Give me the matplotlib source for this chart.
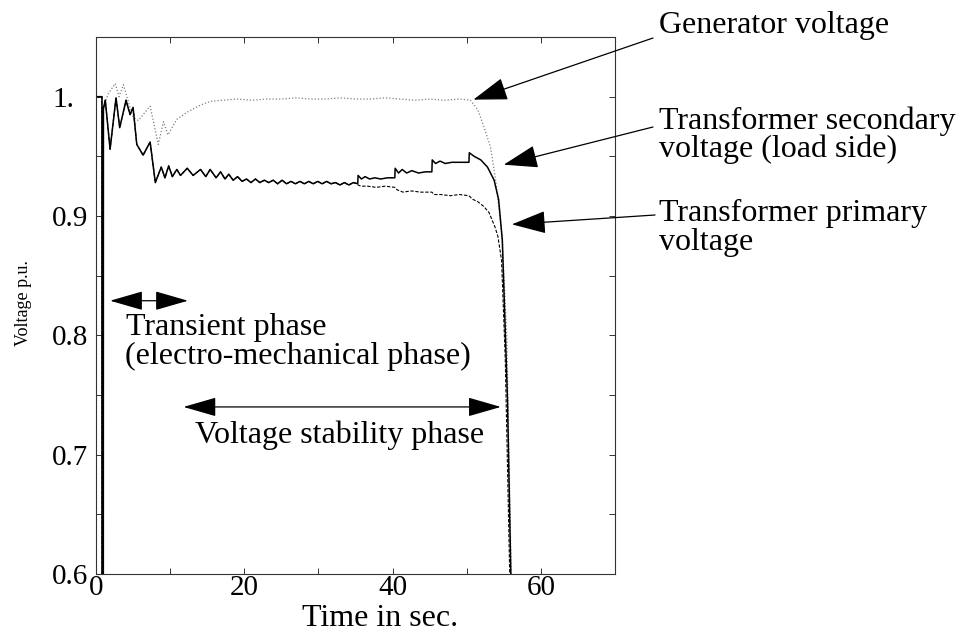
import matplotlib
matplotlib.use("Agg")
import matplotlib.pyplot as plt
from matplotlib.ticker import FixedLocator, FixedFormatter

plt.rcParams['font.family'] = ['Liberation Serif', 'DejaVu Serif']

# both transformer voltages coincide until the first tap change (~35 s)
common_t = [0.0, 0.8, 0.82, 0.98, 1.0, 1.25, 1.9, 2.7, 3.2, 4.05, 4.6, 5.0, 5.5, 6.35, 7.3, 8.0,
            8.8, 9.3, 9.8, 10.3, 10.9, 11.4, 12.3, 13.1, 14.1, 14.8, 15.4, 16.2, 16.8, 17.4,
            17.9, 18.5, 19.1, 19.7, 20.3, 20.9, 21.5, 22.1, 22.7, 23.3, 23.9, 24.5, 25.1, 25.7,
            26.3, 26.9, 27.5, 28.1, 28.7, 29.3, 29.9, 30.5, 31.1, 31.7, 32.3, 32.9, 33.5, 34.1,
            34.7, 35.3]
common_v = [1.0, 1.0, 0.3, 0.3, 0.99, 0.997, 0.956, 0.999, 0.974, 0.997, 0.985, 0.991, 0.960, 0.951, 0.962, 0.928,
            0.941, 0.932, 0.942, 0.933, 0.939, 0.934, 0.940, 0.934, 0.939, 0.933, 0.939, 0.932, 0.937, 0.931,
            0.935, 0.930, 0.933, 0.929, 0.931, 0.928, 0.931, 0.928, 0.930, 0.928, 0.930, 0.927, 0.930, 0.927,
            0.929, 0.927, 0.929, 0.927, 0.929, 0.927, 0.929, 0.927, 0.929, 0.927, 0.928, 0.926, 0.928, 0.926,
            0.928, 0.927]

# transformer secondary (load side) after 35 s
sec_tail_t = [35.35, 35.8, 36.3, 36.9, 37.6, 38.4, 39.3, 40.3,
              40.35, 40.8, 41.3, 41.9, 42.6, 43.5, 44.4, 45.3,
              45.35, 45.8, 46.4, 47.1, 48.0, 49.0, 50.3,
              50.35, 51.0, 51.9, 52.8, 53.7, 54.3, 54.8, 55.5, 55.95, 56.05]
sec_tail_v = [0.934, 0.931, 0.933, 0.931, 0.932, 0.931, 0.932, 0.932,
              0.940, 0.936, 0.939, 0.936, 0.938, 0.936, 0.937, 0.937,
              0.947, 0.944, 0.946, 0.944, 0.945, 0.945, 0.945,
              0.953, 0.950, 0.947, 0.941, 0.930, 0.914, 0.880, 0.746, 0.600, 0.300]

# transformer primary after 35 s
pri_tail_t = [35.35, 35.7, 36.6, 37.8, 39.0, 40.3,
              40.6, 41.4, 42.5, 43.8, 45.3,
              45.6, 46.5, 47.8, 49.0, 50.3,
              50.8, 51.5, 52.3, 53.0, 53.8, 54.2, 54.7, 55.2, 55.8, 55.9]
pri_tail_v = [0.926, 0.925, 0.925, 0.924, 0.925, 0.924,
              0.922, 0.920, 0.921, 0.920, 0.920,
              0.918, 0.918, 0.917, 0.918, 0.917,
              0.914, 0.912, 0.908, 0.903, 0.891, 0.883, 0.863, 0.780, 0.600, 0.300]

# generator voltage
gen_t = [0.0, 0.8, 0.82, 0.98, 1.0, 1.6, 2.6, 3.1, 3.7, 4.4,
         5.0, 5.7, 6.5, 7.3, 8.4, 9.1, 9.7, 10.9, 12.3, 14.1,
         15.4, 17.0, 19.0, 21.0, 23.0, 25.0, 27.0, 29.0, 31.0, 33.0,
         35.0, 37.0, 39.0, 41.0, 43.0, 45.0, 47.0, 49.0, 50.5, 51.5,
         52.3, 53.2, 53.9, 54.4, 54.8, 55.4, 56.0, 56.1]
gen_v = [1.0, 1.0, 0.3, 0.3, 0.99, 1.002, 1.011, 1.000, 1.010, 0.995,
         0.983, 0.980, 0.986, 0.992, 0.960, 0.979, 0.968, 0.981, 0.987, 0.993,
         0.996, 0.997, 0.998, 0.997, 0.998, 0.998, 0.999, 0.998, 0.998, 0.999,
         0.998, 0.998, 0.999, 0.998, 0.997, 0.998, 0.997, 0.998, 0.997, 0.989,
         0.975, 0.958, 0.930, 0.903, 0.880, 0.800, 0.6, 0.3]

sec_t = common_t + sec_tail_t
sec_v = common_v + sec_tail_v
pri_t = common_t + pri_tail_t
pri_v = common_v + pri_tail_v

y_ticks = [0.6, 0.7, 0.8, 0.9, 1.0]
y_labels = ['0.6', '0.7', '0.8', '0.9', '1.']
y_minor = [0.65, 0.75, 0.85, 0.95, 1.05]
x_ticks = [0, 20, 40, 60]
x_minor = [10, 30, 50, 70]

transient_phase = (1.9, 12.4, 0.829)
stability_phase = (11.8, 54.6, 0.740)

W, H = 961, 632
fig = plt.figure(figsize=(W / 100, H / 100), dpi=100)
ax = fig.add_axes([96 / W, 1 - 574 / H, (615 - 96) / W, (574 - 37) / H])

ax.plot(gen_t, gen_v, color='#808080', lw=0.9, ls=(0, (1, 1.6)))
ax.plot(pri_t, pri_v, color='black', lw=0.8, ls=(0, (3, 1.5)))
ax.plot(sec_t, sec_v, color='black', lw=1.1)

ax.set_xlim(0, 70)
ax.set_ylim(0.6, 1.05)

ax.yaxis.set_major_locator(FixedLocator(y_ticks))
ax.yaxis.set_major_formatter(FixedFormatter(y_labels))
ax.yaxis.set_minor_locator(FixedLocator(y_minor))
ax.xaxis.set_major_locator(FixedLocator(x_ticks))
ax.xaxis.set_minor_locator(FixedLocator(x_minor))
ax.tick_params(which='both', direction='in', length=4.5, width=0.7, top=True, right=True,
               color='#333333')
ax.tick_params(axis='y', labelsize=21, pad=31.5)
ax.tick_params(axis='x', labelsize=21, pad=1)
for lbl in ax.get_yticklabels():
    lbl.set_horizontalalignment('left')
for s in ax.spines.values():
    s.set_linewidth(0.8)
    s.set_color('#333333')

fig.text(23 / W, 1 - 303 / H, 'Voltage p.u.', rotation=90, ha='center', va='center', fontsize=13)
fig.text(380 / W, 6 / H, 'Time in sec.', ha='center', va='baseline', fontsize=23)

head = dict(color='black', lw=0.9, mutation_scale=20, shrinkA=0, shrinkB=0)
ax.annotate('', xy=(50.9, 0.9975), xytext=(653 / W, 1 - 38 / H), textcoords='figure fraction',
            arrowprops=dict(arrowstyle='-|>,head_length=1.08,head_width=0.36', **head))
ax.annotate('', xy=(55.0, 0.943), xytext=(653 / W, 1 - 127 / H), textcoords='figure fraction',
            arrowprops=dict(arrowstyle='-|>,head_length=1.08,head_width=0.36', **head))
ax.annotate('', xy=(56.1, 0.893), xytext=(655 / W, 1 - 215 / H), textcoords='figure fraction',
            arrowprops=dict(arrowstyle='-|>,head_length=1.08,head_width=0.36', **head))

for t0, t1, lvl in (transient_phase, stability_phase):
    ax.annotate('', xy=(t0, lvl), xytext=(t1, lvl),
                arrowprops=dict(arrowstyle='<|-|>,head_length=1.04,head_width=0.3', **head))

fs = 23
fig.text(659 / W, 1 - 33 / H, 'Generator voltage', fontsize=fs, va='baseline')
fig.text(659 / W, 1 - 129 / H, 'Transformer secondary', fontsize=fs, va='baseline')
fig.text(659 / W, 1 - 157 / H, 'voltage (load side)', fontsize=fs, va='baseline')
fig.text(659 / W, 1 - 221 / H, 'Transformer primary', fontsize=fs, va='baseline')
fig.text(659 / W, 1 - 250 / H, 'voltage', fontsize=fs, va='baseline')
fig.text(126 / W, 1 - 335 / H, 'Transient phase', fontsize=fs, va='baseline')
fig.text(125 / W, 1 - 364 / H, '(electro-mechanical phase)', fontsize=fs, va='baseline')
fig.text(195 / W, 1 - 443 / H, 'Voltage stability phase', fontsize=fs, va='baseline')

fig.savefig('out.png', dpi=100)
